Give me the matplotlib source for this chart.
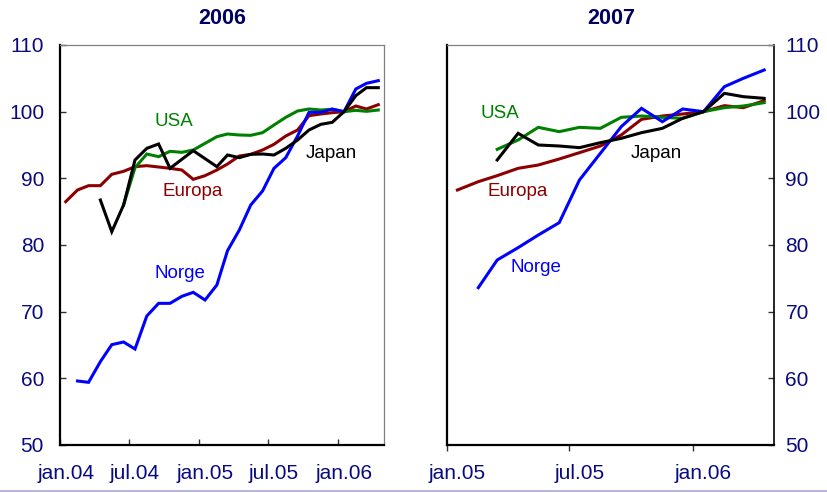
import numpy as np
import pandas as pd
import matplotlib
matplotlib.use('Agg')
import matplotlib.pyplot as plt
import matplotlib.dates as mdates
from matplotlib.lines import Line2D

plt.rcParams['font.family'] = ['Liberation Sans', 'DejaVu Sans']

nan = np.nan

# ---------------- data: panel "2006" (monthly, jan.04 - apr.06) ----------------
months_2006 = pd.date_range('2004-01-01', periods=28, freq='MS') + pd.Timedelta(days=15)
europa_2006 = [86.5, 88.25, 88.9, 88.9, 90.6, 91.05, 91.75, 91.9, 91.7, 91.5, 91.25, 89.85,
               90.4, 91.25, 92.15, 93.35, 93.6, 94.25, 95.1, 96.35, 97.25, 99.4, 99.65, 99.85,
               100.0, 100.85, 100.4, 101.05]
usa_2006 = [nan, nan, nan, nan, nan, 86.0, 91.6, 93.65, 93.25, 94.05, 93.9, 94.25,
            95.25, 96.25, 96.65, 96.5, 96.45, 96.85, 98.0, 99.15, 100.1, 100.4, 100.25, 100.35,
            100.0, 100.2, 100.05, 100.25]
japan_2006 = [nan, nan, nan, 86.75, 82.0, 86.0, 92.75, 94.5, 95.15, 91.5, 92.85, 94.15,
              92.95, 91.75, 93.5, 93.1, 93.6, 93.65, 93.5, 94.5, 95.75, 97.25, 98.1, 98.4,
              100.0, 102.4, 103.6, 103.6]
norge_2006 = [nan, 59.6, 59.4, 62.5, 65.05, 65.45, 64.4, 69.35, 71.25, 71.25, 72.3, 72.9,
              71.75, 74.0, 79.15, 82.25, 86.0, 88.1, 91.5, 93.1, 96.35, 99.9, 99.9, 100.4,
              100.0, 103.4, 104.25, 104.65]

# ---------------- data: panel "2007" (monthly, jan.05 - apr.06) ----------------
months_2007 = pd.date_range('2005-01-01', periods=16, freq='MS') + pd.Timedelta(days=15)
europa_2007 = [88.25, 89.5, 90.4, 91.5, 92.0, 92.9, 93.85, 94.85, 96.5, 98.85, 99.35, 99.65,
               100.0, 100.9, 100.6, 101.65]
usa_2007 = [nan, nan, 94.35, 95.75, 97.65, 97.0, 97.65, 97.5, 99.15, 99.35, 99.15, 99.0,
            100.0, 100.6, 100.85, 101.35]
japan_2007 = [nan, nan, 92.75, 96.75, 95.0, 94.85, 94.6, 95.35, 96.0, 96.85, 97.5, 99.0,
              100.0, 102.75, 102.25, 102.0]
norge_2007 = [nan, 73.6, 77.75, 79.6, 81.5, 83.35, 89.75, 93.75, 97.75, 100.5, 98.5, 100.4,
              100.0, 103.75, 105.0, 106.25]

titles = ['2006', '2007']
tick_labels_2006 = ['jan.04', 'jul.04', 'jan.05', 'jul.05', 'jan.06']
tick_labels_2007 = ['jan.05', 'jul.05', 'jan.06']
y_ticks = [50, 60, 70, 80, 90, 100, 110]

C_EUR = '#8B0000'
C_USA = '#008000'
C_JAP = '#000000'
C_NOR = '#0000FF'
C_TXT = '#0a0a80'

W, H = 827, 493
fig = plt.figure(figsize=(W / 100, H / 100), dpi=100)

def frac(x0, x1, y0, y1):
    return [x0 / W, 1 - y1 / H, (x1 - x0) / W, (y1 - y0) / H]

ax1 = fig.add_axes(frac(60, 384, 45, 445))
ax2 = fig.add_axes(frac(447.3, 774.3, 45, 445))

LW = 2.2

def draw(ax, months, eur, usa, jap, nor):
    ax.plot(months, eur, color=C_EUR, lw=LW, solid_joinstyle='miter')
    ax.plot(months, usa, color=C_USA, lw=LW, solid_joinstyle='miter')
    ax.plot(months, nor, color=C_NOR, lw=LW, solid_joinstyle='miter')
    ax.plot(months, jap, color=C_JAP, lw=LW, solid_joinstyle='miter')
    ax.set_ylim(50, 110)
    ax.set_yticks(y_ticks)

draw(ax1, months_2006, europa_2006, usa_2006, japan_2006, norge_2006)
draw(ax2, months_2007, europa_2007, usa_2007, japan_2007, norge_2007)

ax1.set_xlim(pd.Timestamp('2004-01-01'), pd.Timestamp('2006-05-01'))
ax2.set_xlim(pd.Timestamp('2005-01-01'), pd.Timestamp('2006-05-01'))

# major ticks at the 1st of jan / jul, labels centred mid-month
maj1 = pd.to_datetime(['2004-01-01', '2004-07-01', '2005-01-01', '2005-07-01', '2006-01-01'])
maj2 = pd.to_datetime(['2005-01-01', '2005-07-01', '2006-01-01'])
ax1.set_xticks(maj1)
ax1.set_xticklabels([])
ax1.set_xticks(maj1 + pd.Timedelta(days=15), minor=True)
ax1.set_xticklabels(tick_labels_2006, minor=True)
ax2.set_xticks(maj2)
ax2.set_xticklabels([])
ax2.set_xticks(maj2 + pd.Timedelta(days=15), minor=True)
ax2.set_xticklabels(tick_labels_2007, minor=True)

FS = 15
for ax in (ax1, ax2):
    ax.tick_params(axis='x', which='minor', length=0, pad=14, labelsize=FS, labelcolor=C_TXT)
    ax.tick_params(axis='y', which='minor', length=0)

# left panel
ax1.tick_params(axis='x', which='major', direction='in', length=4.3, width=1, color='#333333')
ax1.tick_params(axis='y', which='major', direction='in', length=4.3, width=1, pad=11.5,
                labelsize=FS, labelcolor=C_TXT, color='#333333')
ax1.spines['left'].set_linewidth(1.6)
ax1.spines['bottom'].set_linewidth(1.6)
for s in ('top', 'right'):
    ax1.spines[s].set_color('#808080')
    ax1.spines[s].set_linewidth(0.9)

# right panel
ax2.tick_params(axis='x', which='major', direction='out', length=4.0, width=1, color='#333333')
ax2.yaxis.tick_right()
ax2.tick_params(axis='y', which='major', direction='in', length=4.3, width=1, pad=8,
                labelsize=FS, labelcolor=C_TXT, color='#333333', left=False, right=True,
                labelleft=False, labelright=True)
ax2.spines['left'].set_linewidth(1.6)
ax2.spines['bottom'].set_linewidth(1.6)
ax2.spines['right'].set_linewidth(1.2)
ax2.spines['top'].set_color('#808080')
ax2.spines['top'].set_linewidth(0.9)

# series labels
LFS = 13.5
def label(ax, x, y, txt, col):
    ax.text(x, y, txt, transform=ax.transAxes, color=col, fontsize=LFS, ha='center', va='center')

label(ax1, 0.352, 0.8075, 'USA', C_USA)
label(ax1, 0.409, 0.635, 'Europa', C_EUR)
label(ax1, 0.836, 0.730, 'Japan', C_JAP)
label(ax1, 0.370, 0.4275, 'Norge', C_NOR)

label(ax2, 0.160, 0.8275, 'USA', C_USA)
label(ax2, 0.216, 0.635, 'Europa', C_EUR)
label(ax2, 0.640, 0.730, 'Japan', C_JAP)
label(ax2, 0.271, 0.445, 'Norge', C_NOR)

# titles
fig.text(222 / W, 1 - 18.5 / H, titles[0], ha='center', va='center', fontsize=15.5,
         fontweight='bold', color='#000060')
fig.text(611 / W, 1 - 18.5 / H, titles[1], ha='center', va='center', fontsize=15.5,
         fontweight='bold', color='#000060')

# thin separator at bottom
fig.add_artist(Line2D([0, 1], [1 - 491 / H, 1 - 491 / H], transform=fig.transFigure,
                      color='#a8a8d8', lw=1.2))

fig.savefig('out.png', dpi=100)
